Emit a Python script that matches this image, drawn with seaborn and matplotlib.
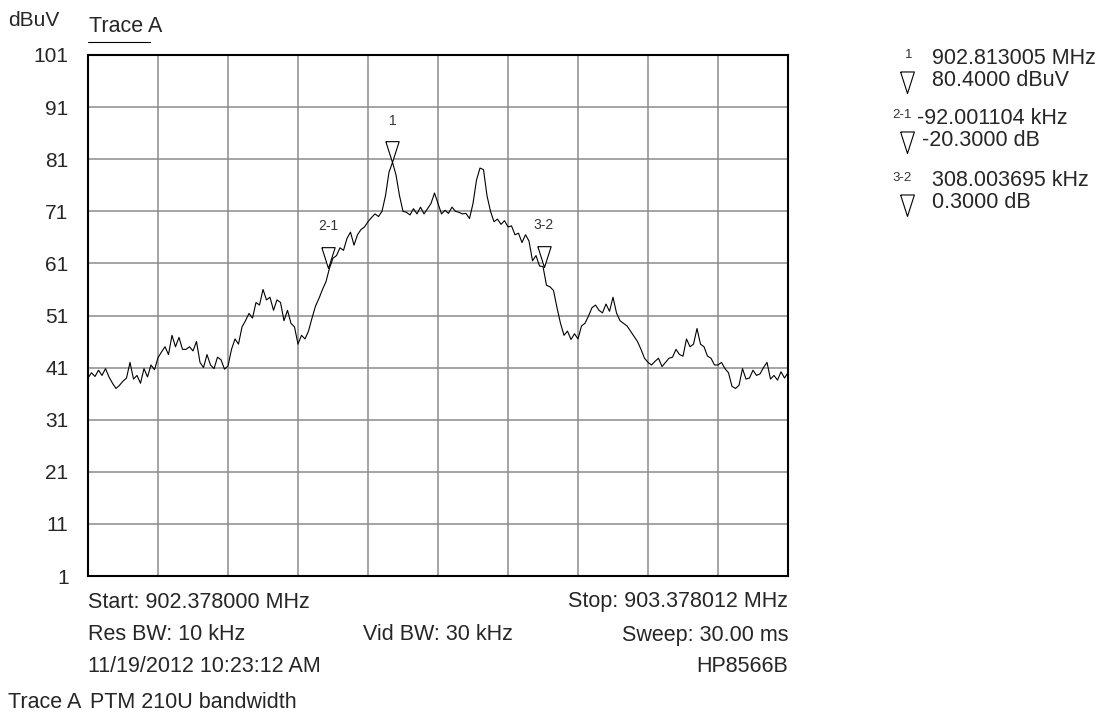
import numpy as np
import pandas as pd
import matplotlib
matplotlib.use("Agg")
import matplotlib.pyplot as plt
import seaborn as sns

# === Sweep settings ===
start_mhz = 902.378000
stop_mhz = 903.378012
y_ticks = [1, 11, 21, 31, 41, 51, 61, 71, 81, 91, 101]

# === Trace A, dBuV (20 points per division) ===
div0 = [39.0, 40.0, 39.3, 40.5, 39.5, 40.8, 39.2, 38.0, 37.0, 37.6,
        38.4, 39.0, 42.0, 38.8, 39.5, 38.0, 40.8, 39.2, 41.5, 40.6]
div1 = [42.9, 44.0, 45.0, 43.5, 47.2, 45.0, 46.8, 44.5, 44.5, 45.0,
        44.2, 46.0, 42.0, 41.0, 43.5, 41.5, 40.8, 43.0, 42.5, 40.7]
div2 = [41.3, 44.5, 46.5, 45.5, 48.8, 50.0, 51.4, 50.5, 53.5, 53.0,
        56.0, 54.0, 54.5, 52.0, 54.0, 53.5, 50.0, 52.0, 49.5, 48.8]
div3 = [45.5, 47.2, 46.5, 48.0, 50.5, 52.8, 54.3, 56.0, 57.5, 60.1,
        62.0, 62.5, 64.0, 63.5, 65.8, 67.0, 64.5, 66.5, 67.5, 68.0]
div4 = [69.0, 69.8, 70.5, 70.0, 71.0, 74.0, 78.5, 80.4, 78.0, 74.0,
        71.0, 70.8, 70.3, 71.5, 70.5, 71.8, 70.5, 71.5, 72.5, 74.5]
div5 = [72.5, 70.5, 71.2, 70.6, 71.8, 71.0, 70.8, 70.5, 70.6, 69.6,
        72.5, 77.0, 79.3, 79.0, 74.0, 71.0, 69.0, 69.5, 68.5, 69.2]
div6 = [68.0, 68.2, 66.5, 66.8, 65.0, 66.5, 65.3, 61.5, 62.5, 60.5,
        60.4, 56.8, 56.5, 55.8, 52.5, 49.5, 47.2, 48.0, 46.4, 47.5]
div7 = [46.5, 49.0, 49.5, 50.9, 52.5, 53.0, 52.0, 51.5, 53.2, 51.8,
        54.5, 51.5, 50.0, 49.5, 49.0, 48.0, 47.0, 46.0, 44.5, 42.8]
div8 = [42.0, 41.5, 42.2, 42.8, 41.2, 42.0, 42.8, 43.0, 44.5, 43.5,
        43.2, 46.5, 45.0, 45.5, 48.5, 45.5, 45.0, 43.2, 42.8, 41.5]
div9 = [41.5, 42.0, 40.8, 40.0, 37.4, 37.0, 37.6, 40.8, 38.8, 39.0,
        40.5, 39.5, 39.8, 41.0, 42.0, 38.8, 39.5, 38.6, 40.2, 39.0, 40.0]

level_dbuv = div0 + div1 + div2 + div3 + div4 + div5 + div6 + div7 + div8 + div9
freq_mhz = np.linspace(start_mhz, stop_mhz, len(level_dbuv))
trace = pd.DataFrame({"freq": freq_mhz, "level": level_dbuv})

# === Markers ===
marker_names = ["2-1", "1", "3-2"]
marker_freq = [902.721004, 902.813005, 903.029008]
marker_level = [60.1, 80.4, 60.4]

readout_sup = ["1", "2-1", "3-2"]
readout_top = ["902.813005 MHz", "-92.001104 kHz", "308.003695 kHz"]
readout_bottom = ["80.4000 dBuV", "-20.3000 dB", "0.3000 dB"]

W, H = 1106, 717


def px(x, y):
    return x / W, 1 - y / H


sns.set_style("white")
plt.rcParams["font.family"] = ["Liberation Sans", "DejaVu Sans"]

fig = plt.figure(figsize=(W / 100, H / 100), dpi=100)
ax = fig.add_axes([88 / W, 1 - 576 / H, 700 / W, 521 / H])

sns.lineplot(data=trace, x="freq", y="level", color="black", lw=0.8, ax=ax)

# down-pointing open triangles with the tip on the trace
tri = [(-0.32, 1.0), (0.32, 1.0), (0.0, 0.0), (-0.32, 1.0)]
ax.plot(marker_freq, marker_level, ls="none", marker=tri, ms=30,
        mfc="white", mec="black", mew=0.8, zorder=5)
for name, f, lvl in zip(marker_names, marker_freq, marker_level):
    ax.annotate(name, (f, lvl), xytext=(0, 25), textcoords="offset points",
                ha="center", va="bottom", fontsize=10, color="#333333")

ax.set_xlim(start_mhz, stop_mhz)
ax.set_ylim(1, 101)
ax.set_xticks(np.linspace(start_mhz, stop_mhz, 11))
ax.set_xticklabels([])
ax.set_yticks(y_ticks)
ax.set_yticklabels([str(v) for v in y_ticks])
ax.tick_params(axis="both", length=0, labelsize=15)
ax.tick_params(axis="y", pad=14)
ax.grid(True, color="#8c8c8c", lw=1.1)
ax.set_xlabel("")
ax.set_ylabel("")
for s in ax.spines.values():
    s.set_color("black")
    s.set_linewidth(1.5)

# === Header ===
fig.text(*px(8, 21), "dBuV", fontsize=15, va="center")
fig.text(*px(89, 26), "Trace A", fontsize=15.5, va="center")
fig.add_artist(plt.Line2D([88 / W, 150 / W], [1 - 42 / H, 1 - 42 / H],
                          color="black", lw=0.8))

# === Marker readout on the right ===
sup_y = [58, 118, 181]
for i in range(3):
    y0 = sup_y[i]
    fig.text(*px(912, y0 - 3), readout_sup[i], fontsize=9.5, ha="right",
             va="center", color="#333333")
    x_top = 917 if readout_top[i].startswith("-") else 932
    x_bot = 922 if readout_bottom[i].startswith("-") else 932
    fig.text(*px(x_top, y0), readout_top[i], fontsize=15.5, va="center")
    fig.text(*px(x_bot, y0 + 22), readout_bottom[i], fontsize=15.5, va="center")
    fig.add_artist(plt.Line2D([907 / W], [1 - (y0 + 35) / H], ls="none",
                              marker=tri, ms=31, mfc="white", mec="black", mew=0.8))

# === Footer ===
fig.text(*px(88, 602), "Start: 902.378000 MHz", fontsize=15.5, va="center")
fig.text(*px(788, 602), "Stop: 903.378012 MHz", fontsize=15.5, va="center", ha="right")
fig.text(*px(88, 635), "Res BW: 10 kHz", fontsize=15.5, va="center")
fig.text(*px(438, 635), "Vid BW: 30 kHz", fontsize=15.5, va="center", ha="center")
fig.text(*px(788, 635), "Sweep: 30.00 ms", fontsize=15.5, va="center", ha="right")
fig.text(*px(88, 666), "11/19/2012 10:23:12 AM", fontsize=15.5, va="center")
fig.text(*px(788, 666), "HP8566B", fontsize=15.5, va="center", ha="right")
fig.text(*px(8, 702), "Trace A", fontsize=15.5, va="center")
fig.text(*px(90, 702), "PTM 210U bandwidth", fontsize=15.5, va="center")

fig.savefig("out.png", dpi=100, facecolor="white")
plt.close(fig)
